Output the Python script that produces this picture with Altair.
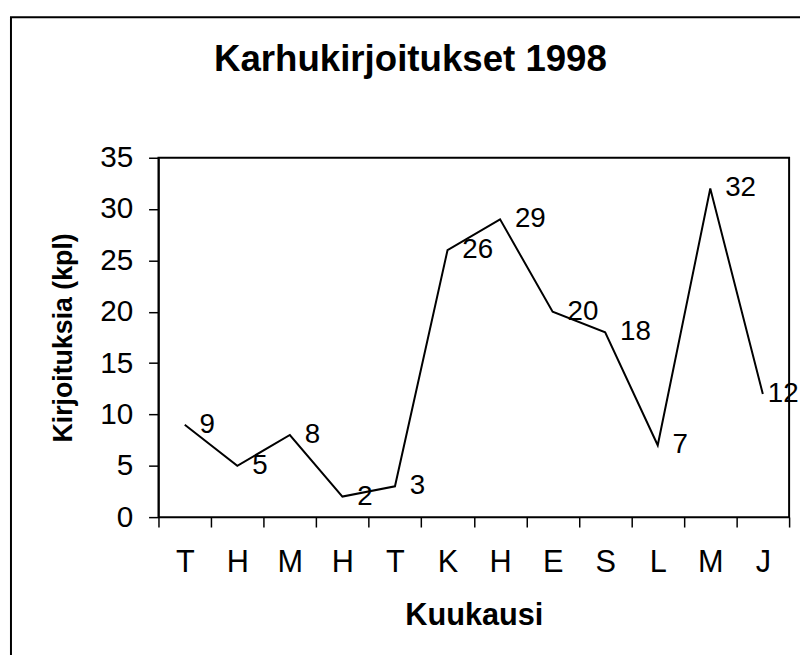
import json
import altair as alt
import pandas as pd

# Data
month_labels = ["T", "H", "M", "H", "T", "K", "H", "E", "S", "L", "M", "J"]
month_index = list(range(12))
counts = [9, 5, 8, 2, 3, 26, 29, 20, 18, 7, 32, 12]
y_ticks = [0, 5, 10, 15, 20, 25, 30, 35]

df = pd.DataFrame({"kk": month_index, "n": counts})

FONT = "Liberation Sans"
W, H = 637, 363
last = month_index[-1]
label_expr = json.dumps(month_labels) + "[datum.value]"

x_enc = alt.X(
    "kk:O",
    bandPosition=0.5,
    scale=alt.Scale(type="band", paddingInner=0, paddingOuter=0),
    axis=alt.Axis(
        title="Kuukausi",
        labelExpr=label_expr,
        labelAngle=0,
        tickBand="extent",
        tickSize=10,
        labelPadding=21,
        labelFontSize=31,
        labelFont=FONT,
        labelColor="black",
        titleFont=FONT,
        titleFontSize=31,
        titleFontWeight="bold",
        titleColor="black",
        titleX=W / 2,
        titleY=99,
        titleAlign="center",
        titleBaseline="middle",
        domainColor="black",
        domainWidth=1.5,
        tickColor="black",
        tickWidth=1.5,
        grid=False,
    ),
)

y_enc = alt.Y(
    "n:Q",
    scale=alt.Scale(domain=[0, 35], nice=False, zero=True),
    axis=alt.Axis(
        title="Kirjoituksia (kpl)",
        values=y_ticks,
        tickSize=10,
        labelPadding=16,
        labelFontSize=30,
        labelFont=FONT,
        labelColor="black",
        titleFont=FONT,
        titleFontSize=27,
        titleFontWeight="bold",
        titleColor="black",
        titleAngle=270,
        titleX=-96,
        titleY=H / 2,
        titleAlign="center",
        titleBaseline="middle",
        domainColor="black",
        domainWidth=1.5,
        tickColor="black",
        tickWidth=1.5,
        grid=False,
    ),
)

base = alt.Chart(df)

line = base.mark_line(color="black", strokeWidth=2).encode(x=x_enc, y=y_enc)

labels = base.mark_text(
    font=FONT, fontSize=28, color="black", dx=15, dy=0, align="left", baseline="middle"
).encode(x=x_enc, y=y_enc, text="n:Q").transform_filter(f"datum.kk < {last}")

end_label = base.mark_text(
    font=FONT, fontSize=28, color="black", dx=5, dy=0, align="left", baseline="middle"
).encode(x=x_enc, y=y_enc, text="n:Q").transform_filter(f"datum.kk == {last}")

frame = alt.Chart(pd.DataFrame({"f": [0]})).mark_rect(
    fillOpacity=0, stroke="black", strokeWidth=2
).encode(
    x=alt.value(-149), x2=alt.value(660), y=alt.value(-142), y2=alt.value(530)
)

chart = (
    alt.layer(frame, line, labels, end_label)
    .properties(
        width=W,
        height=H,
        background="white",
        title=alt.TitleParams(
            "Karhukirjoitukset 1998",
            font=FONT,
            fontSize=37,
            fontWeight="bold",
            color="black",
            anchor="middle",
            frame="group",
            dx=-64,
            offset=-81,
            baseline="middle",
        ),
        autosize=alt.AutoSizeParams(type="none"),
        padding={"left": 152, "top": 148, "right": 11, "bottom": 136},
    )
    .configure_view(stroke="black", strokeWidth=2)
)

chart.save("out.html", embed_options={"renderer": "svg", "actions": False})
